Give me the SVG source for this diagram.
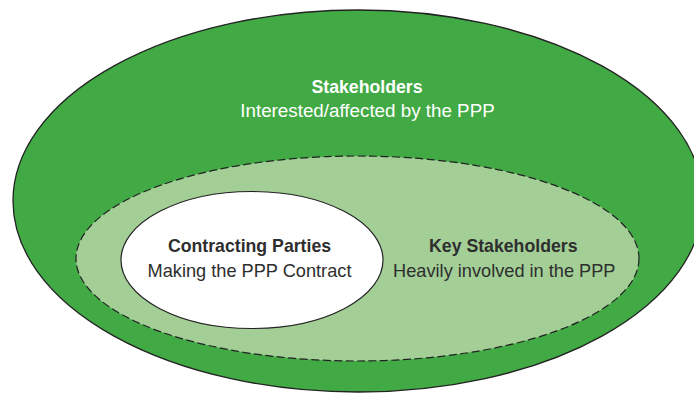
<svg xmlns="http://www.w3.org/2000/svg" width="694" height="393" viewBox="0 0 694 393">
<style>
.t{font-family:"Liberation Sans",Arial,sans-serif;text-anchor:middle}
.b{font-weight:bold;font-size:17.7px}
.r{font-size:18.2px}
.w{fill:#ffffff}
.d{fill:#2e2e2e}
</style>
<rect width="694" height="393" fill="#ffffff"/>
<g id="stakeholders">
<ellipse cx="358" cy="201" rx="345" ry="191" fill="#42aa44" stroke="#222" stroke-width="1.3"/>
<text class="t b w" x="367" y="93.3">Stakeholders</text>
<text class="t r w" x="367.5" y="117.3" style="font-size:18.8px">Interested/affected by the PPP</text>
</g>
<g id="key-stakeholders">
<ellipse cx="357.5" cy="258.5" rx="281.5" ry="102.5" fill="#a3cf97" stroke="#222" stroke-width="1.2" stroke-dasharray="8 3.5"/>
<text class="t b d" x="503.3" y="252.3">Key Stakeholders</text>
<text class="t r d" x="504.3" y="276.7">Heavily involved in the PPP</text>
</g>
<g id="contracting-parties">
<ellipse cx="252" cy="260" rx="131" ry="68.5" fill="#ffffff" stroke="#222" stroke-width="1.2"/>
<text class="t b d" x="249.5" y="252.3">Contracting Parties</text>
<text class="t r d" x="249.5" y="276.7">Making the PPP Contract</text>
</g>
<g id="connectors"/>
</svg>
